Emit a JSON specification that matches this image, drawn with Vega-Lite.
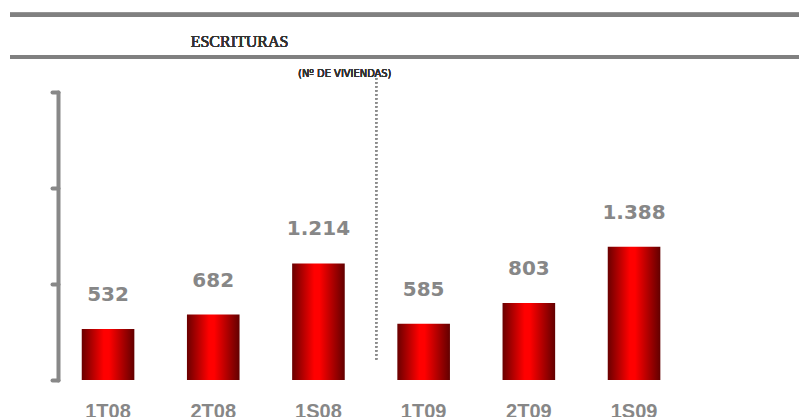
{
  "$schema": "https://vega.github.io/schema/vega-lite/v6.json",
  "width": 789,
  "height": 288,
  "autosize": {"type": "none"},
  "padding": {"left": 10, "top": 92, "right": 0, "bottom": 37},
  "config": {
    "view": {"stroke": null},
    "locale": {"number": {"decimal": ",", "thousands": ".", "grouping": [3], "currency": ["", " €"]}}
  },
  "data": {
    "values": [
      {"period": "1T08", "value": 532},
      {"period": "2T08", "value": 682},
      {"period": "1S08", "value": 1214},
      {"period": "1T09", "value": 585},
      {"period": "2T09", "value": 803},
      {"period": "1S09", "value": 1388}
    ]
  },
  "layer": [
    {
      "mark": {
        "type": "bar",
        "color": {
          "gradient": "linear", "x1": 0, "x2": 1, "y1": 0, "y2": 0,
          "stops": [
            {"offset": 0, "color": "#6a0000"},
            {"offset": 0.42, "color": "#ff0000"},
            {"offset": 0.52, "color": "#ff0000"},
            {"offset": 1, "color": "#620000"}
          ]
        }
      },
      "encoding": {
        "x": {
          "field": "period", "type": "nominal",
          "scale": {"domain": ["1T08", "2T08", "1S08", "1T09", "2T09", "1S09"], "paddingInner": 0.5, "paddingOuter": 1.04327, "align": 0.341},
          "axis": {"title": null, "domain": false, "ticks": false, "labelPadding": 21, "labelFont": "Liberation Sans", "labelFontWeight": "bold", "labelFontSize": 20, "labelColor": "#878787", "labelAngle": 0}
        },
        "y": {
          "field": "value", "type": "quantitative",
          "scale": {"domain": [0, 3000], "nice": false},
          "axis": {"values": [0, 1000, 2000, 3000], "labels": false, "title": null, "grid": false, "domainColor": "#888888", "domainWidth": 4, "domainCap": "round", "tickColor": "#888888", "tickWidth": 4, "tickCap": "round", "tickSize": 6, "offset": -48}
        }
      }
    },
    {
      "mark": {"type": "text", "dy": -34, "font": "DejaVu Sans", "fontWeight": "bold", "fontSize": 20, "color": "#878787", "baseline": "middle"},
      "encoding": {
        "x": {"field": "period", "type": "nominal"},
        "y": {"field": "value", "type": "quantitative"},
        "text": {"field": "value", "type": "quantitative", "format": ","}
      }
    },
    {
      "mark": {"type": "rule", "color": "#808080", "strokeWidth": 4},
      "encoding": {"y": {"datum": 3805}}
    },
    {
      "mark": {"type": "rule", "color": "#808080", "strokeWidth": 4},
      "encoding": {"y": {"datum": 3365}}
    },
    {
      "mark": {"type": "rule", "color": "#8c8c8c", "strokeWidth": 2, "strokeDash": [1.5, 2.5]},
      "encoding": {
        "x": {"datum": "1S08", "bandPosition": 1.6},
        "y": {"datum": 3146},
        "y2": {"datum": 208}
      }
    },
    {
      "mark": {"type": "text", "text": "ESCRITURAS", "font": "Liberation Serif", "fontSize": 16, "fontWeight": "normal", "color": "#333333", "baseline": "middle", "align": "center"},
      "encoding": {
        "x": {"datum": "2T08", "bandPosition": 1},
        "y": {"datum": 3521}
      }
    },
    {
      "mark": {"type": "text", "text": "(Nº DE VIVIENDAS)", "font": "DejaVu Sans Condensed", "fontSize": 11, "fontWeight": "normal", "color": "#333333", "baseline": "middle", "align": "center"},
      "encoding": {
        "x": {"datum": "1S08", "bandPosition": 1},
        "y": {"datum": 3187}
      }
    }
  ]
}
